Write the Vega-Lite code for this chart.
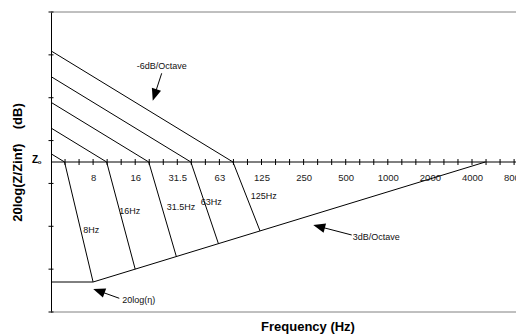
{
  "$schema": "https://vega.github.io/schema/vega-lite/v6.json",
  "autosize": {"type": "none"},
  "padding": {"left": 51, "top": 12, "right": 0, "bottom": 22},
  "width": 465,
  "height": 300,
  "config": {"view": {"stroke": null}, "font": "Liberation Sans"},
  "title": {"text": "Frequency (Hz)", "orient": "bottom", "frame": "group", "anchor": "middle", "dx": 24.5, "offset": 8, "fontSize": 13, "fontWeight": "bold", "font": "Liberation Sans", "color": "black"},
  "encoding": {
    "x": {"field": "f", "type": "quantitative",
      "scale": {"type": "log", "base": 2, "domain": [4, 8452], "nice": false, "zero": false},
      "axis": {"orient": "bottom", "offset": -150, "values": [8, 16, 32, 64, 128, 256, 512, 1024, 2048, 4096, 8192],
        "labelExpr": "datum.value==32?'31.5':datum.value==64?'63':datum.value==128?'125':datum.value==256?'250':datum.value==512?'500':datum.value>=1024?''+(datum.value/1024*1000):''+datum.value",
        "domain": false, "ticks": false, "grid": false, "title": null, "labelPadding": 10, "labelFontSize": 9.5, "labelColor": "#222222", "labelFont": "Liberation Sans", "labelOverlap": false, "labelFlush": false, "labelBound": false}},
    "y": {"field": "db", "type": "quantitative",
      "scale": {"domain": [-35, 35], "nice": false, "zero": false},
      "axis": {"orient": "left", "domain": true, "domainColor": "black", "ticks": false, "labels": false, "grid": false,
        "title": "20log(Z/Zinf)\u00a0\u00a0\u00a0\u00a0(dB)", "titleFont": "Liberation Sans", "titleFontSize": 13, "titleFontWeight": "bold", "titleColor": "black", "titlePadding": 27}}
  },
  "layer": [
    {
      "data": {"values": [
        {"kind": "border", "f": 4, "f2": 8452, "db": 35},
        {"kind": "border", "f": 4, "f2": 8452, "db": -35},
        {"kind": "zero", "f": 4, "f2": 8452, "db": 0}
      ]},
      "mark": {"type": "rule", "strokeWidth": 1},
      "encoding": {
        "x2": {"field": "f2"},
        "color": {"field": "kind", "type": "nominal", "scale": {"domain": ["border", "zero"], "range": ["#808080", "#000000"]}, "legend": null}
      }
    },
    {
      "data": {"values": [
        {"id": "b8", "f": 4, "db": 1.93}, {"id": "b8", "f": 5, "db": 0}, {"id": "b8", "f": 8, "db": -28},
        {"id": "b16", "f": 4, "db": 7.93}, {"id": "b16", "f": 10, "db": 0}, {"id": "b16", "f": 16, "db": -25},
        {"id": "b31", "f": 4, "db": 13.93}, {"id": "b31", "f": 20, "db": 0}, {"id": "b31", "f": 31.5, "db": -22.07},
        {"id": "b63", "f": 4, "db": 19.93}, {"id": "b63", "f": 40, "db": 0}, {"id": "b63", "f": 63, "db": -19.07},
        {"id": "b125", "f": 4, "db": 25.93}, {"id": "b125", "f": 80, "db": 0}, {"id": "b125", "f": 125, "db": -16.1},
        {"id": "floor", "f": 4, "db": -28}, {"id": "floor", "f": 8, "db": -28}, {"id": "floor", "f": 5100, "db": 0}
      ]},
      "mark": {"type": "line", "color": "black", "strokeWidth": 1},
      "encoding": {"detail": {"field": "id", "type": "nominal"}}
    },
    {
      "data": {"values": [
        {"f": 5.04, "db": 0}, {"f": 6.35, "db": 0}, {"f": 8, "db": 0}, {"f": 10.08, "db": 0}, {"f": 12.7, "db": 0}, {"f": 16, "db": 0},
        {"f": 20.16, "db": 0}, {"f": 25.4, "db": 0}, {"f": 32, "db": 0}, {"f": 40.32, "db": 0}, {"f": 50.8, "db": 0}, {"f": 64, "db": 0},
        {"f": 80.63, "db": 0}, {"f": 101.6, "db": 0}, {"f": 128, "db": 0}, {"f": 161.3, "db": 0}, {"f": 203.2, "db": 0}, {"f": 256, "db": 0},
        {"f": 322.5, "db": 0}, {"f": 406.4, "db": 0}, {"f": 512, "db": 0}, {"f": 645.1, "db": 0}, {"f": 812.7, "db": 0}, {"f": 1024, "db": 0},
        {"f": 1290, "db": 0}, {"f": 1625, "db": 0}, {"f": 2048, "db": 0}, {"f": 2580, "db": 0}, {"f": 3251, "db": 0}, {"f": 4096, "db": 0},
        {"f": 5161, "db": 0}, {"f": 6502, "db": 0}, {"f": 8192, "db": 0}
      ]},
      "mark": {"type": "tick", "orient": "vertical", "size": 6, "thickness": 1, "color": "black", "opacity": 1}
    },
    {
      "data": {"values": [
        {"f": 4, "db": -35}, {"f": 4, "db": -25}, {"f": 4, "db": -15}, {"f": 4, "db": -5},
        {"f": 4, "db": 5}, {"f": 4, "db": 15}, {"f": 4, "db": 25}, {"f": 4, "db": 35}
      ]},
      "mark": {"type": "tick", "orient": "horizontal", "size": 5, "thickness": 1, "color": "black", "opacity": 1}
    },
    {
      "data": {"values": [
        {"f": 24.75, "db": 20.7, "f2": 22.02, "db2": 15.63},
        {"f": 12.31, "db": -31.8, "f2": 8.8, "db2": -30.1},
        {"f": 565, "db": -17.03, "f2": 330, "db2": -15.05}
      ]},
      "mark": {"type": "rule", "color": "black", "strokeWidth": 1},
      "encoding": {"x2": {"field": "f2"}, "y2": {"field": "db2"}}
    },
    {
      "data": {"values": [{"f": 22.02, "db": 15.63}]},
      "mark": {"type": "point", "shape": "M0,-1L0.8,1L-0.8,1Z", "size": 144, "filled": true, "color": "black", "opacity": 1, "strokeWidth": 0, "angle": 198}
    },
    {
      "data": {"values": [{"f": 8.8, "db": -30.1}]},
      "mark": {"type": "point", "shape": "M0,-1L0.8,1L-0.8,1Z", "size": 144, "filled": true, "color": "black", "opacity": 1, "strokeWidth": 0, "angle": 290}
    },
    {
      "data": {"values": [{"f": 330, "db": -15.05}]},
      "mark": {"type": "point", "shape": "M0,-1L0.8,1L-0.8,1Z", "size": 144, "filled": true, "color": "black", "opacity": 1, "strokeWidth": 0, "angle": 285}
    },
    {
      "data": {"values": [
        {"f": 16.4, "db": 22.4, "t": "-6dB/Octave"},
        {"f": 6.81, "db": -15.87, "t": "8Hz"},
        {"f": 12.31, "db": -11.43, "t": "16Hz"},
        {"f": 26.88, "db": -10.43, "t": "31.5Hz"},
        {"f": 47.04, "db": -9.26, "t": "63Hz"},
        {"f": 107.2, "db": -7.86, "t": "125Hz"},
        {"f": 574.5, "db": -17.57, "t": "3dB/Octave"},
        {"f": 12.94, "db": -32.2, "t": "20log(η)"}
      ]},
      "mark": {"type": "text", "align": "left", "baseline": "middle", "fontSize": 9, "font": "Liberation Sans", "color": "#111111"},
      "encoding": {"text": {"field": "t"}}
    },
    {
      "data": {"values": [{"f": 3.07, "db": 0.39, "t": "Z"}]},
      "mark": {"type": "text", "align": "center", "baseline": "middle", "fontSize": 10, "fontWeight": "bold", "font": "Liberation Sans", "color": "black"},
      "encoding": {"text": {"field": "t"}}
    },
    {
      "data": {"values": [{"f": 3.32, "db": -0.07, "t": "o"}]},
      "mark": {"type": "text", "align": "center", "baseline": "middle", "fontSize": 6, "fontWeight": "bold", "font": "Liberation Sans", "color": "black"},
      "encoding": {"text": {"field": "t"}}
    }
  ]
}
